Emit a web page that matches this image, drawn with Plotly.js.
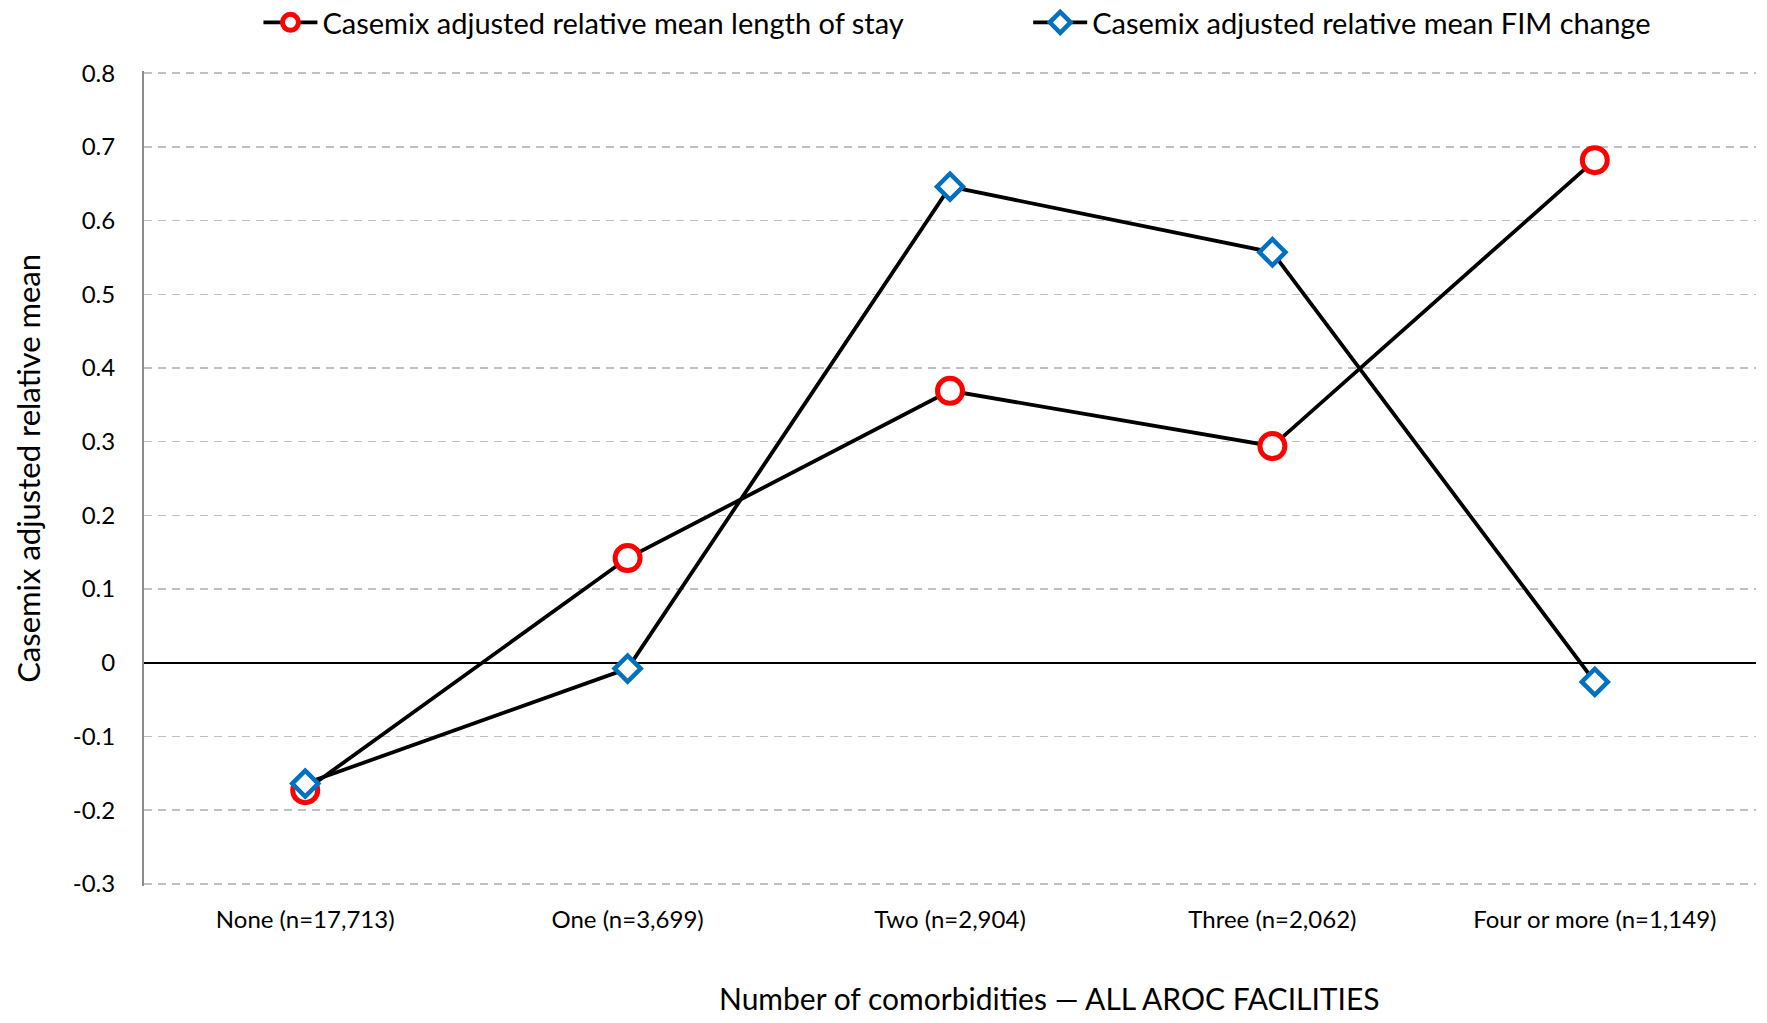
<!DOCTYPE html>
<html>
<head>
<meta charset="utf-8">
<script src="https://cdn.plot.ly/plotly-3.0.1.min.js"></script>
<style>html,body{margin:0;padding:0;background:#fff;}#chart{width:1767px;height:1023px;}</style>
</head>
<body>
<div id="chart"></div>
<script>
const categories = ["None (n=17,713)", "One (n=3,699)", "Two (n=2,904)", "Three (n=2,062)", "Four or more (n=1,149)"];
const losValues = [-0.173, 0.142, 0.369, 0.294, 0.682];
const fimValues = [-0.164, -0.008, 0.646, 0.557, -0.026];
const seriesNames = ["Casemix adjusted relative mean length of stay", "Casemix adjusted relative mean FIM change"];
const yTicks = [-0.3, -0.2, -0.1, 0, 0.1, 0.2, 0.3, 0.4, 0.5, 0.6, 0.7, 0.8];
const yTickText = ["-0.3", "-0.2", "-0.1", "0", "0.1", "0.2", "0.3", "0.4", "0.5", "0.6", "0.7", "0.8"];
const xTitle = "Number of comorbidities \u2014 ALL AROC FACILITIES";
const yTitle = "Casemix adjusted relative mean";

const FONT = "Lato, 'Noto Sans', sans-serif";

const traces = [
  {
    x: categories, y: losValues, name: seriesNames[0], type: "scatter", mode: "lines+markers",
    legend: "legend",
    line: {color: "#000000", width: 3.8},
    marker: {symbol: "circle", size: 25, color: "#ffffff", line: {color: "#FF0000", width: 5}}
  },
  {
    x: categories, y: fimValues, name: seriesNames[1], type: "scatter", mode: "lines+markers",
    legend: "legend2",
    line: {color: "#000000", width: 3.8},
    marker: {symbol: "diamond", size: 20, color: "#ffffff", line: {color: "#0070C0", width: 4.5}}
  }
];

const legendCommon = {
  orientation: "h", xanchor: "left", y: 0.978, yanchor: "middle",
  xref: "paper", yref: "container", itemwidth: 54,
  font: {family: FONT, size: 29, color: "#000000"},
  bgcolor: "rgba(0,0,0,0)"
};

const layout = {
  width: 1767, height: 1023,
  paper_bgcolor: "#ffffff", plot_bgcolor: "#ffffff",
  margin: {l: 144, r: 11, t: 71, b: 137},
  font: {family: FONT, color: "#000000", size: 24},
  showlegend: true,
  legend: Object.assign({}, legendCommon, {x: 0.071}),
  legend2: Object.assign({}, legendCommon, {x: 0.5485}),
  xaxis: {
    type: "category", range: [-0.5, 4.5],
    showgrid: false, zeroline: false, showline: false,
    ticks: "outside", ticklen: 12, tickcolor: "rgba(0,0,0,0)",
    tickfont: {family: FONT, size: 24, color: "#000000"},
    automargin: false
  },
  yaxis: {
    range: [-0.303, 0.803], tickvals: yTicks, ticktext: yTickText,
    showgrid: true, gridcolor: "#c0c0c0", gridwidth: 1.5, griddash: "8px,6px",
    zeroline: true, zerolinecolor: "#000000", zerolinewidth: 2,
    showline: true, linecolor: "#8c8c8c", linewidth: 2,
    ticks: "outside", ticklen: 22, tickcolor: "rgba(0,0,0,0)",
    tickfont: {family: FONT, size: 24, color: "#000000"},
    automargin: false
  },
  annotations: [
    {
      text: xTitle, xref: "paper", yref: "paper", x: 0.562, y: -0.138,
      xanchor: "center", yanchor: "middle", showarrow: false,
      font: {family: FONT, size: 30, color: "#000000"}
    },
    {
      text: yTitle, xref: "paper", yref: "paper", x: -0.072, y: 0.513, textangle: -90,
      xanchor: "center", yanchor: "middle", showarrow: false,
      font: {family: FONT, size: 31, color: "#000000"}
    }
  ]
};

Plotly.newPlot("chart", traces, layout, {displayModeBar: false, staticPlot: true});
</script>
</body>
</html>
